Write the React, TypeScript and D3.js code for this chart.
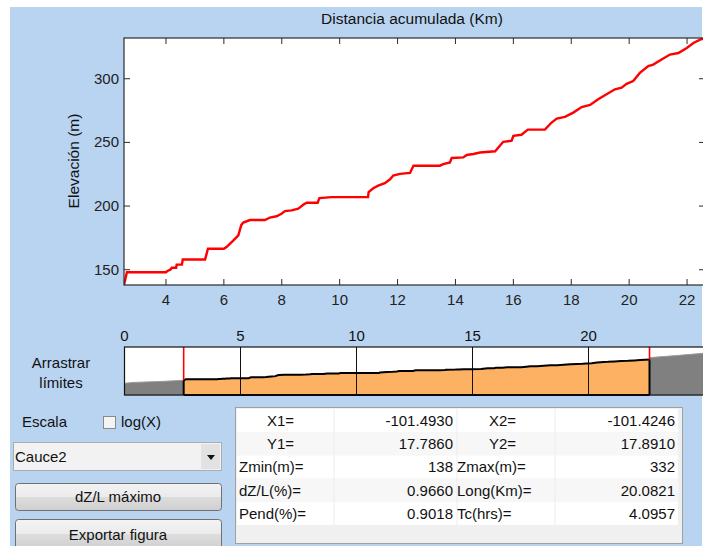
import * as d3 from 'd3'
import React from 'react'

// perfil del cauce (km acumulados, elevacion m)
const profKm = [2.55, 2.6, 2.65, 4.0, 4.05, 4.15, 4.2, 4.35, 4.37, 4.55, 4.58, 5.35, 5.45, 6.0, 6.1, 6.33, 6.5, 6.6, 6.67, 6.9, 7.42, 7.59, 7.82, 7.99, 8.11, 8.34, 8.57, 8.74, 8.86, 9.24, 9.3, 9.72, 10.98, 11.0, 11.16, 11.33, 11.56, 11.74, 11.85, 12.08, 12.43, 12.55, 13.46, 13.58, 13.81, 13.87, 14.27, 14.39, 14.62, 14.85, 15.37, 15.65, 15.94, 16.0, 16.28, 16.5, 17.09, 17.32, 17.5, 17.78, 18.07, 18.36, 18.65, 18.93, 19.22, 19.51, 19.74, 19.91, 20.14, 20.37, 20.66, 20.83, 21.12, 21.41, 21.7, 21.99, 22.22, 22.45, 22.63]
const profZ = [138, 143, 148, 148, 149, 150, 151.5, 151.5, 154, 154, 158, 158, 166.5, 166.5, 168, 173, 177, 185, 187, 189, 189, 191, 192, 194, 196, 196.6, 198, 201, 202.6, 202.6, 206.2, 207, 207, 211, 214, 216, 218, 221, 224, 225.3, 226, 231.7, 231.7, 233, 234.3, 237.8, 238.2, 240.1, 240.9, 242.1, 243, 250.5, 251.3, 255.2, 256, 260, 260, 265.6, 268.7, 270, 273.4, 277.8, 279.4, 283.9, 287.8, 291.7, 293, 296, 298.2, 304.6, 309.9, 311.1, 315.1, 319, 320.2, 324.2, 328.1, 330.7, 332]

// tramos fuera de los limites (barra inferior)
const downKm = [0, 0.4, 1.7, 2.55]
const downZ = [110, 118, 128, 138]
const upKm = [22.63, 23.2, 23.8, 24.4, 25]
const upZ = [350, 360, 370, 381, 392]

const miniTicks = [0, 5, 10, 15, 20]

const labels1 = ['    X1=', '    Y1=', 'Zmin(m)=', 'dZ/L(%)=', 'Pend(%)=']
const values1 = ['-101.4930', '17.7860', '138', '0.9660', '0.9018']
const labels2 = ['    X2=', '    Y2=', 'Zmax(m)=', 'Long(Km)=', 'Tc(hrs)=']
const values2 = ['-101.4246', '17.8910', '332', '20.0821', '4.0957']

const font = 'Liberation Sans, Arial, sans-serif'
const bg = '#B9D4F1'

const App = () => {
  const W = 703, H = 546
  const x = d3.scaleLinear().domain([2.55, 22.63]).range([124, 705.3])
  const y = d3.scaleLinear().domain([138, 332]).range([285, 38])
  const pts = profKm.map((k, i) => [k, profZ[i]] as [number, number])
  const line = d3.line<[number, number]>().x(d => x(d[0])).y(d => y(d[1]))

  const xm = d3.scaleLinear().domain([0, 25]).range([124.5, 704.5])
  const ym = d3.scaleLinear().domain([0, 450]).range([395, 347])
  const area = d3.area<[number, number]>().x(d => xm(d[0])).y0(ym(0)).y1(d => ym(d[1]))
  const mline = d3.line<[number, number]>().x(d => xm(d[0])).y(d => ym(d[1]))
  const down = downKm.map((k, i) => [k, downZ[i]] as [number, number])
  const up = upKm.map((k, i) => [k, upZ[i]] as [number, number])

  const rowH = 23.2
  const rowTop = 409

  return (
    <svg width={W} height={H} style={{ position: 'absolute', left: 0, top: 0 }} fontFamily={font}>
      <rect x={0} y={0} width={W} height={H} fill="#fff" />
      <rect x={10} y={7} width={692} height={H - 7} fill={bg} />

      {/* grafico principal */}
      <defs>
        <clipPath id="plotclip">
          <rect x={124} y={38} width={581} height={247} />
        </clipPath>
      </defs>
      <rect x={124} y={38} width={582} height={247} fill="#fff" />
      <path d={line(pts) || ''} fill="none" stroke="#f00" strokeWidth={2.4} clipPath="url(#plotclip)" />
      <rect x={124} y={38} width={582} height={247} fill="none" stroke="#2b2b2b" strokeWidth={1.2} />
      {x.ticks(10).map(t => (
        <g key={'xt' + t}>
          <line x1={x(t)} x2={x(t)} y1={285} y2={279} stroke="#2b2b2b" />
          <line x1={x(t)} x2={x(t)} y1={38} y2={44} stroke="#2b2b2b" />
          <text x={x(t)} y={305} fontSize={15} textAnchor="middle" fill="#222">{t}</text>
        </g>
      ))}
      {y.ticks(4).map(t => (
        <g key={'yt' + t}>
          <line x1={124} x2={130} y1={y(t)} y2={y(t)} stroke="#2b2b2b" />
          <line x1={705} x2={699} y1={y(t)} y2={y(t)} stroke="#2b2b2b" />
          <text x={119} y={y(t) + 5} fontSize={15} textAnchor="end" fill="#222">{t}</text>
        </g>
      ))}
      <text x={412} y={24} fontSize={15.5} textAnchor="middle" fill="#111">Distancia acumulada (Km)</text>
      <text transform="translate(79,161) rotate(-90)" fontSize={15.5} textAnchor="middle" fill="#111">Elevación (m)</text>

      {/* barra de limites */}
      <text x={61} y={368} fontSize={15} textAnchor="middle" fill="#111">Arrastrar</text>
      <text x={61} y={388} fontSize={15} textAnchor="middle" fill="#111">límites</text>
      <rect x={124.5} y={347} width={580} height={48} fill="#fff" />
      <path d={area(down) || ''} fill="#808080" stroke="#9a9a9a" strokeWidth={1} />
      <path d={area(up) || ''} fill="#808080" stroke="#9a9a9a" strokeWidth={1} />
      <path d={area(pts) || ''} fill="#FDB163" />
      {miniTicks.map(t => (
        <g key={'mt' + t}>
          <line x1={xm(t)} x2={xm(t)} y1={347} y2={395} stroke="#111" strokeWidth={1} />
          <text x={xm(t)} y={341} fontSize={15} textAnchor="middle" fill="#111">{t}</text>
        </g>
      ))}
      <path d={mline(pts) || ''} fill="none" stroke="#000" strokeWidth={2} />
      <line x1={xm(2.55)} x2={xm(2.55)} y1={347} y2={ym(138)} stroke="#f00" strokeWidth={1.6} />
      <line x1={xm(2.55)} x2={xm(2.55)} y1={ym(138)} y2={395} stroke="#000" strokeWidth={2} />
      <line x1={xm(22.63)} x2={xm(22.63)} y1={347} y2={ym(332)} stroke="#f00" strokeWidth={1.6} />
      <line x1={xm(22.63)} x2={xm(22.63)} y1={ym(332)} y2={395} stroke="#000" strokeWidth={2} />
      <line x1={xm(2.55)} x2={xm(22.63)} y1={395} y2={395} stroke="#000" strokeWidth={2} />
      <rect x={124.5} y={347} width={580} height={48} fill="none" stroke="#111" strokeWidth={1.2} />

      {/* controles */}
      <text x={22} y={427} fontSize={15} fill="#111">Escala</text>
      <rect x={103.5} y={416.5} width={12} height={12} fill="#f4f4f4" stroke="#8a8a8a" />
      <text x={121} y={427} fontSize={15} fill="#111">log(X)</text>

      <rect x={13.5} y={442.5} width={208} height={28} fill="#f2f2f2" stroke="#acacac" />
      <rect x={201} y={444} width={19} height={25} fill="#e2e2e2" />
      <text x={15} y={462} fontSize={15} fill="#111">Cauce2</text>
      <path d="M207,455 L215,455 L211,460 Z" fill="#111" />

      <defs>
        <linearGradient id="btn" x1="0" x2="0" y1="0" y2="1">
          <stop offset="0" stopColor="#f3f3f3" />
          <stop offset="0.5" stopColor="#ebebeb" />
          <stop offset="0.5" stopColor="#dddddd" />
          <stop offset="1" stopColor="#cfcfcf" />
        </linearGradient>
      </defs>
      <rect x={15.5} y={483.5} width={206} height={27} rx={3} fill="url(#btn)" stroke="#707070" />
      <text x={118} y={502} fontSize={15} textAnchor="middle" fill="#111">dZ/L máximo</text>
      <rect x={15.5} y={519.5} width={206} height={30} rx={3} fill="url(#btn)" stroke="#707070" />
      <text x={118} y={540} fontSize={15} textAnchor="middle" fill="#111">Exportar figura</text>

      {/* tabla */}
      <rect x={235.5} y={407.5} width={447} height={136} fill="#f0f0f0" stroke="#a0a0a0" />
      {labels1.map((l, i) => (
        <g key={'r' + i}>
          <rect x={237} y={rowTop + i * rowH} width={441} height={rowH} fill={i % 2 === 0 ? '#ffffff' : '#f7f7f7'} />
          <line x1={334} x2={334} y1={rowTop + i * rowH} y2={rowTop + (i + 1) * rowH} stroke="#ececec" />
          <line x1={457} x2={457} y1={rowTop + i * rowH} y2={rowTop + (i + 1) * rowH} stroke="#ececec" />
          <line x1={555} x2={555} y1={rowTop + i * rowH} y2={rowTop + (i + 1) * rowH} stroke="#ececec" />
          <text x={l.startsWith(' ') ? 267 : 239} y={rowTop + i * rowH + 17} fontSize={15} fill="#111">{l.trim()}</text>
          <text x={453} y={rowTop + i * rowH + 17} fontSize={15} textAnchor="end" fill="#111">{values1[i]}</text>
          <text x={labels2[i].startsWith(' ') ? 489 : 457} y={rowTop + i * rowH + 17} fontSize={15} fill="#111">{labels2[i].trim()}</text>
          <text x={675} y={rowTop + i * rowH + 17} fontSize={15} textAnchor="end" fill="#111">{values2[i]}</text>
        </g>
      ))}
    </svg>
  )
}

export default App
